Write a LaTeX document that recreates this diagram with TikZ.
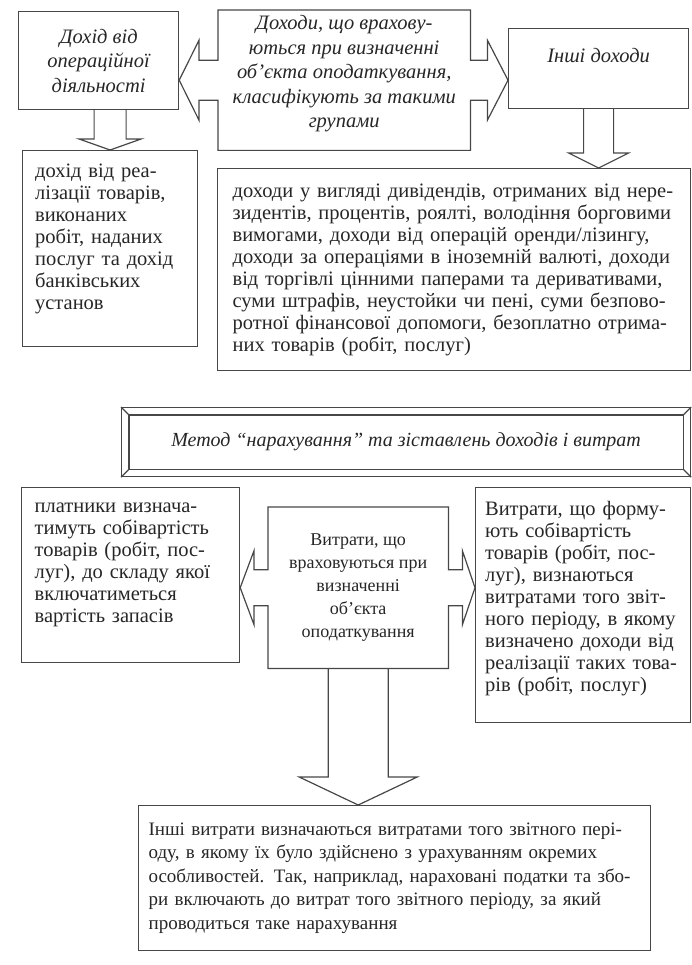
\documentclass[tikz,border=0pt]{standalone}
\usepackage{fontspec}
\setmainfont{Liberation Serif}
\usetikzlibrary{positioning,calc}

\begin{document}
\begin{tikzpicture}[x=1pt,y=-1pt,
	frame/.style={draw=black!72, line width=1.2pt},
	box/.style={frame, rectangle, inner sep=0pt, anchor=north west, text=black!85},
	callout/.style={rectangle, inner sep=0pt, anchor=north west, text=black!85},
	txt/.style={font=\fontsize{20.5}{22}\selectfont, align=left},
	ital/.style={font=\fontsize{20.5}{24.5}\selectfont\itshape, align=center}]
	\useasboundingbox (0,0) rectangle (691,965);

	% доходи
	\node[box, ital, minimum width=160pt, minimum height=98pt						] (INC_OP)		at (18,11)	{Дохід від\\операційної\\діяльності};
	\node[callout, ital, minimum width=252pt, minimum height=140pt, text depth=17pt	] (INC_CLS)		at (218,10)	{Доходи, що врахову-\\ються при визначенні\\об’єкта оподаткування,\\класифікують за такими\\групами};
	\node[box, ital, minimum width=180pt, minimum height=80pt, text depth=27pt		] (INC_OTH)		at (508,28)	{Інші доходи};
	\node[box, txt, text width=150pt, minimum width=175pt, minimum height=196pt, text depth=155pt	] (INC_SAL)	at (22,150)	{дохід від реа-\\лізації товарів,\\виконаних\\робіт, наданих\\послуг та дохід\\банківських\\установ};
	\node[box, txt, text width=443pt, minimum width=473pt, minimum height=202pt		] (INC_REST)	at (217,168) {доходи у вигляді дивідендів, отриманих від нере-\\зидентів, процентів, роялті, володіння борговими\\вимогами, доходи від операцій оренди/лізингу,\\доходи за операціями в іноземній валюті, доходи\\від торгівлі цінними паперами та деривативами,\\суми штрафів, неустойки чи пені, суми безпово-\\ротної фінансової допомоги, безоплатно отрима-\\них товарів (робіт, послуг)};

	\draw[frame] (INC_CLS.north west) -- (INC_CLS.north east) -- ($(INC_CLS.east)+(0,-20)$) -- ++(17,0) -- ++(0,-20) -- (INC_CLS.east -| INC_OTH.west) -- ($(INC_CLS.east)+(17,40)$) -- ++(0,-20) -- ($(INC_CLS.east)+(0,20)$) -- (INC_CLS.south east)
		-- (INC_CLS.south west) -- ($(INC_CLS.west)+(0,20)$) -- ++(-19,0) -- ++(0,20) -- (INC_CLS.west -| INC_OP.east) -- ($(INC_CLS.west)+(-19,-40)$) -- ++(0,20) -- ($(INC_CLS.west)+(0,-20)$) -- cycle;
	\draw[frame] ($(INC_OP.south -| INC_SAL.north)+(-16,0)$) -- ($(INC_SAL.north)+(-16,-11)$) -- ++(-15,0) -- (INC_SAL.north) -- ($(INC_SAL.north)+(31,-11)$) -- ++(-15,0) -- ($(INC_OP.south -| INC_SAL.north)+(16,0)$);
	\draw[frame] ($(INC_OTH.south)+(-15,0)$) -- ($(INC_REST.north -| INC_OTH.south)+(-15,-15)$) -- ++(-15,0) -- (INC_REST.north -| INC_OTH.south) -- ($(INC_REST.north -| INC_OTH.south)+(30,-15)$) -- ++(-15,0) -- ($(INC_OTH.south)+(15,0)$);

	% метод
	\node[box, font=\fontsize{20}{24}\selectfont\itshape, minimum width=569pt, minimum height=69pt] (METHOD) at (121,407) {Метод “нарахування” та зіставлень доходів і витрат};
	\draw[frame] ([shift={(8,8)}]METHOD.north west) rectangle ([shift={(-8,-8)}]METHOD.south east);
	\foreach \corner/\dx/\dy in {north west/8/8, north east/-8/8, south east/-8/-8, south west/8/-8}
		\draw[frame] (METHOD.\corner) -- ([shift={(\dx,\dy)}]METHOD.\corner);

	% витрати
	\node[box, txt, text width=192pt, minimum width=218pt, minimum height=175pt, text depth=134pt	] (COST_INV)	at (21,487)	{платники визнача-\\тимуть собівартість\\товарів (робіт, пос-\\луг), до складу якої\\включатиметься\\вартість запасів};
	\node[callout, font=\fontsize{18}{23}\selectfont, align=center, minimum width=180pt, minimum height=161pt] (COST_CLS) at (268,507) {Витрати, що\\враховуються при\\визначенні\\об’єкта\\оподаткування};
	\node[box, txt, text width=196pt, minimum width=215pt, minimum height=235pt, text depth=194pt	] (COST_SAL)	at (475,487) {Витрати, що форму-\\ють собівартість\\товарів (робіт, пос-\\луг), визнаються\\витратами того звіт-\\ного періоду, в якому\\визначено доходи від\\реалізації таких това-\\рів (робіт, послуг)};
	\node[box, font=\fontsize{19}{23.5}\selectfont, align=left, text width=492pt, minimum width=512pt, minimum height=145pt	] (COST_OTH)	at (138,805) {Інші витрати визначаються витратами того звітного пері-\\оду, в якому їх було здійснено з урахуванням окремих\\особливостей. Так, наприклад, нараховані податки та збо-\\ри включають до витрат того звітного періоду, за який\\проводиться таке нарахування};

	\draw[frame] (COST_CLS.north west) -- (COST_CLS.north east) -- ($(COST_CLS.east)+(0,-18)$) -- ++(14,0) -- ++(0,-19) -- (COST_CLS.east -| COST_SAL.west) -- ($(COST_CLS.east)+(14,37)$) -- ++(0,-19) -- ($(COST_CLS.east)+(0,18)$) -- (COST_CLS.south east)
		-- (COST_CLS.south west) -- ($(COST_CLS.west)+(0,18)$) -- ++(-14,0) -- ++(0,19) -- (COST_CLS.west -| COST_INV.east) -- ($(COST_CLS.west)+(-14,-37)$) -- ++(0,19) -- ($(COST_CLS.west)+(0,-18)$) -- cycle;
	\draw[frame] ($(COST_CLS.south)+(-30,0)$) -- ($(COST_OTH.north -| COST_CLS.south)+(-30,-28)$) -- ++(-29,0) -- (COST_OTH.north -| COST_CLS.south) -- ($(COST_OTH.north -| COST_CLS.south)+(59,-28)$) -- ++(-29,0) -- ($(COST_CLS.south)+(30,0)$);
\end{tikzpicture}
\end{document}
